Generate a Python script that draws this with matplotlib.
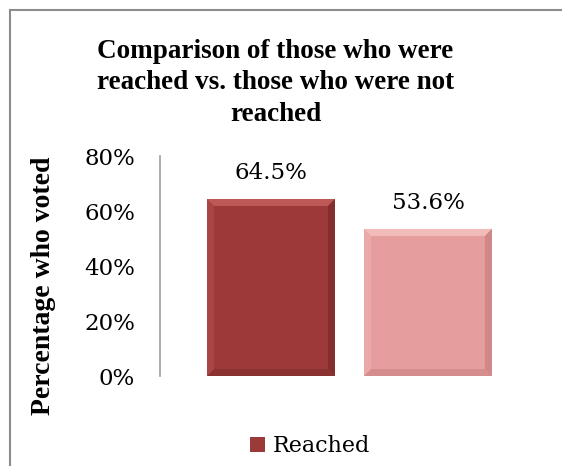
import matplotlib
matplotlib.use('Agg')
import matplotlib.pyplot as plt
from matplotlib.patches import Polygon

categories = ['Reached', 'Not reached']
voted_pct = [64.5, 53.6]
bar_colors = ['#9c3a3a', '#e59e9d']
light_colors = ['#bd5956', '#f2bcba']
dark_colors = ['#7c2a2a', '#c8807f']
y_ticks = [0, 20, 40, 60, 80]

SERIF = 'DejaVu Serif'
TITLE_FONT = 'Liberation Serif'

fig = plt.figure(figsize=(5.62, 4.66), dpi=100)
ax = fig.add_axes([0.2847, 0.1931, 0.6743, 0.4711])

bars = ax.bar(range(len(categories)), voted_pct, width=0.815,
              color=bar_colors, edgecolor='none', zorder=2)

ax.set_xlim(-0.707, 1.707)
ax.set_ylim(0, 80)

# bevel edges, a few pixels wide, converted to data units
bev_px = 7
ax_w = 0.6743 * 562
ax_h = 0.4711 * 466
bx = bev_px * (1.707 + 0.707) / ax_w
by = bev_px * 80 / ax_h
for b, lc, dc in zip(bars, light_colors, dark_colors):
    x0, w, h = b.get_x(), b.get_width(), b.get_height()
    x1 = x0 + w
    top = [(x0, h), (x1, h), (x1 - bx, h - by), (x0 + bx, h - by)]
    right = [(x1, h), (x1, 0), (x1 - bx, by), (x1 - bx, h - by)]
    bottom = [(x0, 0), (x1, 0), (x1 - bx, by), (x0 + bx, by)]
    left = [(x0, 0), (x0, h), (x0 + bx, h - by), (x0 + bx, by)]
    ax.add_patch(Polygon(top, closed=True, color=lc, lw=0, zorder=3))
    ax.add_patch(Polygon(right, closed=True, color=dc, lw=0, zorder=3, alpha=0.7))
    ax.add_patch(Polygon(bottom, closed=True, color=dc, lw=0, zorder=3, alpha=0.5))
    ax.add_patch(Polygon(left, closed=True, color=lc, lw=0, zorder=3, alpha=0.4))

# data labels above bars
for b, v in zip(bars, voted_pct):
    ax.annotate(f'{v}%', (b.get_x() + b.get_width() / 2, v),
                xytext=(0, 19), textcoords='offset points',
                ha='center', va='center', fontsize=16.5, family=SERIF)

ax.set_yticks(y_ticks)
ax.set_yticklabels([f'{t}%' for t in y_ticks], fontsize=16.5, family=SERIF)
ax.tick_params(axis='y', length=0, pad=18)
ax.set_xticks([])
for side in ['top', 'right', 'bottom']:
    ax.spines[side].set_visible(False)
ax.spines['left'].set_color('#a0a0a0')
ax.spines['left'].set_linewidth(1.2)

fig.text(0.49, 0.822, 'Comparison of those who were\nreached vs. those who were not\nreached',
         ha='center', va='center', fontsize=19.5, fontweight='bold',
         family=TITLE_FONT, linespacing=1.36)
fig.text(0.078, 0.386, 'Percentage who voted', rotation=90, ha='center', va='center',
         fontsize=20, fontweight='bold', family=TITLE_FONT)

leg = fig.legend(handles=[bars[0]], labels=['Reached'], loc='center',
                 bbox_to_anchor=(0.552, 0.043), frameon=False,
                 prop={'family': SERIF, 'size': 16},
                 handlelength=0.65, handleheight=0.65, handletextpad=0.35)

# chart area border (top and left visible)
fig.add_artist(plt.Line2D([10 / 562, 1], [1 - 10 / 466] * 2, transform=fig.transFigure,
                          color='#8c8c8c', lw=1.5))
fig.add_artist(plt.Line2D([10 / 562] * 2, [0, 1 - 10 / 466], transform=fig.transFigure,
                          color='#8c8c8c', lw=1.5))

fig.savefig('out.png', dpi=100)
